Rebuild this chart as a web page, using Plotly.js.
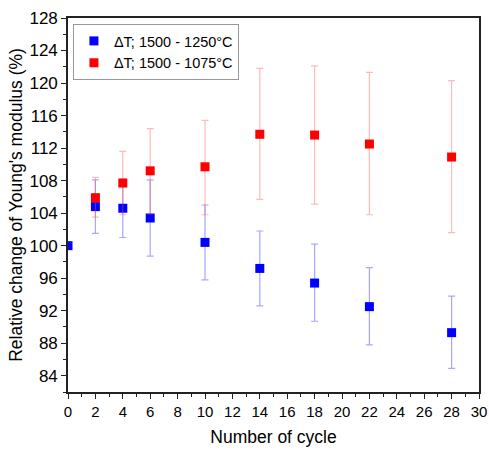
<!DOCTYPE html>
<html>
<head>
<meta charset="utf-8">
<script src="https://cdn.plot.ly/plotly-3.0.1.min.js"></script>
<style>html,body{margin:0;padding:0;background:#fff;}#chart{width:489px;height:450px;}</style>
</head>
<body>
<div id="chart"></div>
<script>
const cyclesBlue = [0, 2, 4, 6, 10, 14, 18, 22, 28];
const valuesBlue = [100, 104.8, 104.6, 103.4, 100.4, 97.2, 95.4, 92.5, 89.3];
const upperBlue  = [100, 108.1, 108.2, 108.1, 105.0, 101.8, 100.2, 97.3, 93.8];
const lowerBlue  = [100, 101.5, 101.0, 98.7, 95.8, 92.6, 90.7, 87.8, 84.9];

const cyclesRed = [2, 4, 6, 10, 14, 18, 22, 28];
const valuesRed = [105.9, 107.7, 109.2, 109.7, 113.7, 113.6, 112.5, 110.9];
const upperRed  = [108.4, 111.6, 114.4, 115.4, 121.8, 122.1, 121.3, 120.3];
const lowerRed  = [103.5, 103.8, 103.9, 103.8, 105.7, 105.1, 103.8, 101.6];

const xTicks = [0,2,4,6,8,10,12,14,16,18,20,22,24,26,28,30];
const yTicks = [84,88,92,96,100,104,108,112,116,120,124,128];

const seriesNames = ['ΔT; 1500 - 1250°C', 'ΔT; 1500 - 1075°C'];

function diff(a, b, sign) { return a.map((v, i) => sign * (b[i] - v)); }

const traces = [
  {
    x: cyclesBlue, y: valuesBlue, name: seriesNames[0], type: 'scatter', mode: 'markers',
    marker: {symbol: 'square', size: 9, color: '#0000ff'},
    error_y: {type: 'data', symmetric: false,
      array: diff(valuesBlue, upperBlue, 1), arrayminus: diff(valuesBlue, lowerBlue, -1),
      color: 'rgba(60,60,255,0.45)', thickness: 1.2, width: 3.5}
  },
  {
    x: cyclesRed, y: valuesRed, name: seriesNames[1], type: 'scatter', mode: 'markers',
    marker: {symbol: 'square', size: 9, color: '#ff0000'},
    error_y: {type: 'data', symmetric: false,
      array: diff(valuesRed, upperRed, 1), arrayminus: diff(valuesRed, lowerRed, -1),
      color: 'rgba(255,80,80,0.4)', thickness: 1.2, width: 3.5}
  }
];

const font = {family: 'Liberation Sans, Arial, sans-serif', color: '#000'};

const layout = {
  width: 489, height: 450,
  margin: {l: 68, r: 10, t: 18, b: 58},
  paper_bgcolor: '#fff', plot_bgcolor: '#fff',
  font: Object.assign({size: 14}, font),
  showlegend: true,
  legend: {
    x: 0.012, y: 0.984, xanchor: 'left', yanchor: 'top',
    bordercolor: '#999', borderwidth: 1, bgcolor: '#fff',
    font: Object.assign({size: 14.5}, font), itemwidth: 30
  },
  xaxis: {
    range: [0, 30], tickvals: xTicks, ticktext: xTicks.map(String),
    showgrid: false, zeroline: false,
    showline: true, linecolor: '#222', linewidth: 1.6, mirror: true,
    ticks: 'outside', ticklen: 5, tickwidth: 1.2, tickcolor: '#222',
    minor: {dtick: 1, ticks: 'outside', ticklen: 3, tickwidth: 1, tickcolor: '#222', showgrid: false},
    tickfont: Object.assign({size: 15}, font),
    title: {text: 'Number of cycle', font: Object.assign({size: 17.5}, font), standoff: 12}
  },
  yaxis: {
    range: [82, 128], tickvals: yTicks, ticktext: yTicks.map(String),
    showgrid: false, zeroline: false,
    showline: true, linecolor: '#222', linewidth: 1.6, mirror: true,
    ticks: 'outside', ticklen: 5, tickwidth: 1.2, tickcolor: '#222',
    ticklabelstandoff: 0,
    minor: {dtick: 2, ticks: 'outside', ticklen: 3, tickwidth: 1, tickcolor: '#222', showgrid: false},
    tickfont: Object.assign({size: 17}, font),
    title: {text: "Relative change of Young's modulus (%)", font: Object.assign({size: 17.5}, font), standoff: 2}
  }
};

Plotly.newPlot('chart', traces, layout, {displayModeBar: false, responsive: false});
</script>
</body>
</html>
